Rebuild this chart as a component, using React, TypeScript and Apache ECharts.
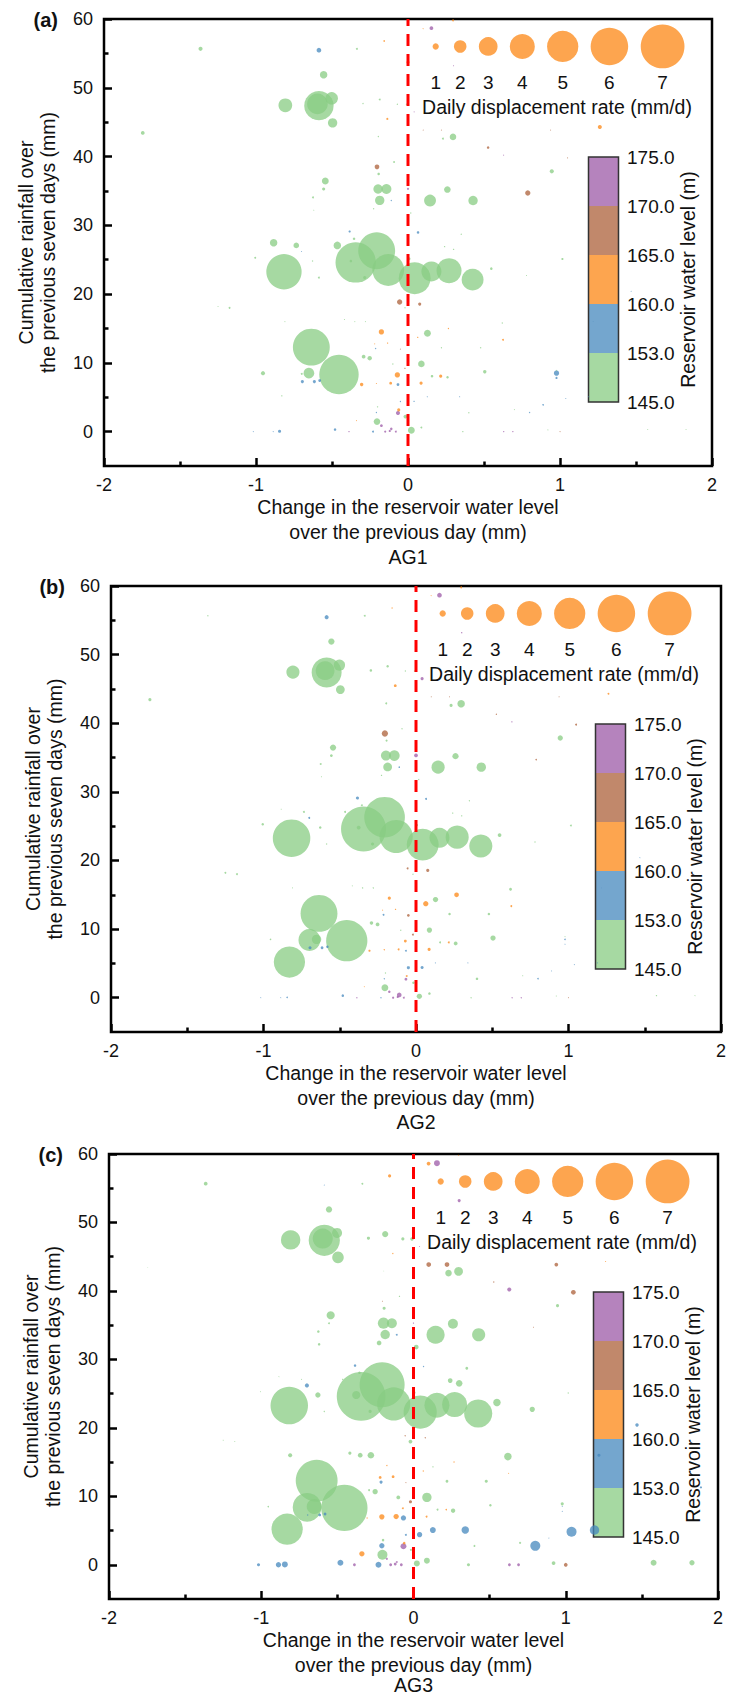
import { useEffect, useRef } from 'react';
import * as echarts from 'echarts';

const FONT = '"Liberation Sans", Arial, Helvetica, sans-serif';

// ---------- data ----------
const panelLabels = ['(a)', '(b)', '(c)'];
const panelNames = ['AG1', 'AG2', 'AG3'];
const yMajorTicks = [0, 10, 20, 30, 40, 50, 60];
const yMinorTicks = [5, 15, 25, 35, 45, 55];
const legendRates = [1, 2, 3, 4, 5, 6, 7];
const levelBreaks = [145, 153, 160, 165, 170, 175];
const zeroLine = [[0, -5], [0, 60]];

// [change in water level (m), 7-day rainfall (mm), reservoir water level (m)]
const points: number[][] = [
  [-1.365, 55.66, 149], [-0.586, 55.46, 156], [-0.336, 55.66, 149], [-0.555, 51.9, 149], [-0.586, 47.4, 149],
  [-0.596, 47.65, 149], [-0.807, 47.45, 149], [-0.502, 48.47, 149], [-0.496, 44.9, 149], [-1.745, 43.43, 149],
  [-0.186, 48.3, 149], [-0.296, 47.7, 149], [-0.136, 45.47, 162], [-0.195, 42.9, 149], [-0.204, 38.5, 167],
  [-0.193, 37.47, 149], [-0.092, 39.2, 149], [-0.544, 36.45, 149], [-0.555, 35.28, 149], [-0.625, 34.06, 149],
  [-0.62, 32.2, 149], [-0.197, 35.28, 149], [-0.142, 35.28, 149], [-0.186, 33.63, 149], [-0.11, 33.6, 156],
  [-0.226, 32.4, 149], [-0.384, 29.1, 156], [-0.355, 28.05, 149], [-0.465, 27.08, 149], [-0.884, 27.47, 149],
  [-0.735, 27.08, 149], [-0.7, 26.2, 156], [-1.005, 25.28, 149], [-0.628, 24.8, 149], [-0.816, 23.25, 149],
  [-0.344, 24.6, 149], [-0.206, 26.3, 149], [-0.13, 23.5, 149], [0.044, 22.3, 149], [0.154, 23.3, 149],
  [0.27, 23.4, 149], [0.425, 22.1, 149], [-0.376, 24.8, 149], [0.548, 23.7, 149], [0.78, 22.7, 149],
  [1.016, 25.1, 149], [-0.285, 22.4, 149], [-0.586, 22.4, 149], [-0.055, 18.84, 167], [0.077, 18.55, 167],
  [-0.05, 12.0, 167], [-0.175, 14.5, 162], [0.128, 14.3, 149], [0.064, 13.7, 162], [0.266, 15.0, 162],
  [0.625, 13.35, 162], [0.62, 15.8, 149], [-0.213, 12.08, 156], [-0.134, 12.87, 162], [-0.219, 12.76, 162],
  [-0.636, 12.28, 149], [-0.454, 8.3, 149], [-0.652, 8.5, 149], [-0.699, 8.4, 149], [-0.83, 5.2, 149],
  [-0.954, 8.5, 149], [-0.695, 7.28, 156], [-0.616, 7.28, 156], [-0.581, 7.42, 156], [-0.292, 10.9, 149],
  [-0.252, 10.68, 149], [-0.114, 7.04, 162], [-0.305, 6.84, 162], [-0.208, 7.0, 162], [-0.07, 8.25, 162],
  [-0.066, 6.84, 156], [0.086, 7.04, 162], [0.158, 8.06, 149], [0.215, 8.06, 162], [0.26, 7.9, 149],
  [0.088, 9.85, 149], [-0.1, 9.84, 149], [-0.02, 9.2, 167], [0.505, 8.69, 149], [0.977, 8.5, 156],
  [0.977, 8.9, 149], [0.977, 7.8, 156], [0.889, 3.9, 156], [-0.204, 1.46, 149], [-0.175, 0.87, 172],
  [-0.11, 0.4, 172], [-0.066, 2.7, 172], [-0.017, 2.18, 149], [0.022, 0.2, 149], [0.088, 0.6, 149],
  [-0.061, 3.16, 162], [-0.48, 0.3, 156], [-0.845, 0.05, 156], [-0.887, 0, 156], [-1.018, 0, 156],
  [-0.23, 0, 156], [-0.388, 0, 172], [-0.15, 0, 172], [-0.12, 0.1, 172], [-0.08, 0, 172],
  [-0.339, 1.6, 162], [-0.208, 2.77, 156], [-0.2, 3.6, 149], [0.04, 4.4, 156], [-0.05, 4.37, 156],
  [0.127, 5.07, 156], [0.34, 5.07, 156], [1.038, 4.82, 156], [1.189, 5.07, 156], [0.8, 2.77, 156],
  [0.361, 0, 149], [0.63, 0, 172], [0.69, 0, 172], [0.92, 0.25, 149], [1.0, 0, 167],
  [1.577, 0.3, 149], [1.829, 0.3, 149], [0.4, 2.75, 149], [1.468, 20.4, 156], [-0.02, 18.0, 149],
  [1.888, 11.3, 156], [1.457, 10.4, 156], [1.218, 16.0, 156], [0.22, 12.2, 149], [0.478, 12.2, 149],
  [-0.81, 16.0, 149], [-0.418, 16.3, 149], [-0.35, 16.0, 149], [-0.28, 16.0, 149], [-1.174, 18.0, 149],
  [-1.25, 18.2, 149], [0.35, 28.7, 149], [0.241, 26.9, 149], [0.3, 26.5, 149], [0.018, 31.8, 149],
  [0.259, 35.2, 149], [0.145, 33.6, 149], [0.428, 33.6, 149], [0, 35.3, 172], [0.066, 28.97, 156],
  [0.296, 42.85, 149], [0.23, 42.6, 149], [0.527, 41.3, 167], [0.946, 37.85, 149], [0.788, 34.7, 167],
  [1.262, 44.3, 162], [1.05, 39.8, 167], [0.629, 40.2, 172], [0.938, 43.85, 167], [0.1, 43.85, 167],
  [0.22, 43.85, 167], [0.04, 46.5, 172], [0.154, 58.66, 172], [0.099, 58.6, 162], [0.296, 59.8, 162],
  [-0.157, 56.8, 162], [0, 53.7, 162], [0.3, 53.2, 172], [-0.07, 47.6, 149], [-0.01, 47.6, 149],
  [0.007, 25.14, 149], [0.7, 3.2, 149],
];

// daily displacement rate (mm/d), one value per point
const rateAG1 = [
  0.65, 0.75, 0.3, 1.2, 4.7, 3.3, 2.2, 2.0, 1.5, 0.6,
  0.3, 0.2, 0.35, 0.2, 0.75, 0.4, 0.3, 1.1, 0.5, 0.3,
  0.15, 1.5, 1.6, 1.5, 0.2, 0.2, 0.35, 0.4, 1.2, 1.2,
  0.9, 0.15, 0.3, 0.2, 5.65, 6.45, 5.9, 5.1, 5.1, 3.2,
  4.0, 3.5, 0.4, 0.4, 0.15, 0.35, 0.5, 0.3, 0.85, 0.5,
  0.15, 0.85, 1.1, 0.2, 0.2, 0.3, 0.2, 0.2, 0.2, 0.15,
  5.9, 6.3, 1.7, 0.3, 0.2, 0.65, 0.5, 0.5, 0.45, 0.6,
  0.7, 0.45, 0.55, 0.15, 0.85, 0.45, 0.5, 0.4, 0.5, 0.4,
  1.05, 0.2, 0.2, 0.55, 0.85, 0.15, 0.35, 0.25, 1.05, 0.45,
  0.4, 0.65, 0.6, 1.1, 0.3, 0.5, 0.4, 0.5, 0.15, 0.15,
  0.3, 0.2, 0.35, 0.35, 0.3, 0.15, 0.2, 0.2, 0.2, 0.2,
  0.15, 0.15, 0.15, 0.15, 0.2, 0.2, 0.2, 0.2, 0.15, 0.15,
  0.15, 0.15, 0.2, 0.15, 0.2, 0.1, 0.1, 0.1, 0.2, 0.2,
  0.15, 0.15, 0.15, 0.15, 0.3, 0.15, 0.2, 0.2, 0.2, 0.2,
  1.05, 1.9, 1.5, 0.35, 0.4, 1.05, 0.3, 0.4, 0.65, 0.85,
  0.65, 0.15, 0.15, 0.15, 0.15, 0.15, 0.15, 0.6, 0.15, 0.3,
  0.25, 0.5, 0.15, 0.2, 0.2, 0.45, 0.15,
];
const rateAG2 = [
  0.2, 0.65, 0.3, 1.0, 4.8, 3.0, 2.1, 1.8, 1.4, 0.5,
  0.4, 0.4, 0.45, 0.3, 1.0, 0.35, 0.2, 1.0, 0.45, 0.3,
  0.15, 1.6, 1.7, 1.4, 0.25, 0.2, 0.5, 0.3, 0.3, 0.15,
  0.3, 0.3, 0.4, 0.4, 6.0, 7.2, 6.5, 5.3, 5.1, 3.2,
  3.7, 3.7, 0.6, 0.6, 0.2, 0.3, 0.5, 0.2, 0.3, 0.5,
  0.45, 0.5, 0.85, 0.85, 0.75, 0.3, 0.45, 0.3, 0.2, 0.15,
  5.9, 6.6, 1.5, 3.5, 5.0, 0.25, 0.5, 0.45, 0.4, 0.55,
  0.6, 0.3, 0.35, 0.2, 0.45, 0.3, 0.5, 0.3, 0.3, 0.6,
  0.85, 0.2, 0.3, 0.85, 0.25, 0.15, 0.15, 0.15, 1.1, 0.4,
  0.75, 0.45, 0.4, 0.85, 0.4, 0.3, 0.4, 0.25, 0.15, 0.15,
  0.2, 0.2, 0.35, 0.35, 0.3, 0.15, 0.2, 0.2, 0.5, 0.5,
  0.15, 0.15, 0.15, 0.15, 0.25, 0.2, 0.2, 0.2, 0.15, 0.15,
  0.2, 0.15, 0.4, 0.15, 0.2, 0.1, 0.1, 0.1, 0.4, 0.4,
  0.15, 0.15, 0.2, 0.2, 0.3, 0.3, 0.2, 0.2, 0.2, 0.2,
  1.0, 2.1, 1.5, 0.6, 0.3, 1.2, 0.5, 0.2, 0.85, 0.25,
  0.3, 0.3, 0.2, 0.15, 0.15, 0.15, 0.5, 0.75, 0.15, 0.3,
  0.2, 0.2, 0.2, 0.2, 0.2, 0.3, 0.15,
];
const rateAG3 = [
  0.6, 0.15, 0.3, 1.0, 5.0, 3.2, 3.1, 1.6, 1.85, 0.1,
  1.0, 0.5, 0.2, 0.1, 0.15, 0.5, 0.2, 1.3, 0.3, 0.4,
  0.4, 1.8, 1.6, 1.5, 0.3, 0.75, 0.4, 0.4, 0.2, 0.15,
  0.15, 0.65, 0.15, 0.85, 6.0, 7.8, 7.2, 5.3, 5.3, 4.0,
  4.0, 4.5, 1.3, 1.2, 0.85, 0.2, 0.5, 0.2, 0.2, 0.2,
  0.15, 0.2, 0.2, 0.2, 0.2, 0.15, 1.2, 0.5, 0.45, 0.45,
  6.7, 7.4, 2.4, 4.6, 5.0, 0.25, 0.2, 0.45, 0.45, 0.3,
  0.85, 0.85, 0.2, 0.85, 0.3, 0.85, 0.3, 0.3, 0.25, 0.7,
  1.5, 0.6, 0.5, 0.4, 0.15, 0.5, 0.15, 0.15, 1.6, 0.3,
  0.3, 0.95, 0.3, 0.95, 0.95, 0.4, 0.95, 0.95, 0.85, 0.5,
  0.95, 0.45, 0.45, 0.45, 0.45, 0.85, 0.85, 0.4, 0.85, 0.3,
  0.95, 1.2, 1.6, 1.5, 1.6, 0.5, 0.45, 0.45, 0.6, 0.6,
  0.95, 0.85, 0.3, 0.55, 0.6, 0.35, 0.45, 0.5, 0.45, 0.5,
  0.65, 0.5, 0.75, 1.05, 0.15, 0.15, 0.45, 0.75, 1.05, 0.75,
  1.6, 2.9, 2.1, 0.2, 0.2, 1.4, 1.05, 0.2, 0.5, 0.15,
  0.15, 0.75, 0.65, 0.6, 0.75, 0.75, 0.15, 0.95, 0.6, 0.15,
  0.5, 0.2, 0.5, 0.5, 0.55, 0.3, 0.35,
];
const panelRates = [rateAG1, rateAG2, rateAG3];

// ---------- layout & style ----------
const grids = [
  { left: 104, top: 19, width: 608, height: 447 },
  { left: 111, top: 586, width: 610, height: 446 },
  { left: 109, top: 1154, width: 609, height: 445 },
];
const nameOffsets = [91, 90, 86];
const PX_PER_RATE = 6.25;
const POINT_OPACITY = 0.75;
const levelSwatch = ['#a6d9a2', '#74a6ce', '#fda54f', '#c1886b', '#b583bd'];
const levelPointColor = ['#88cc83', '#4688be', '#fc8714', '#ac603a', '#9c5aa7'];
const legendOffsetX = [331.7, 356.2, 384.2, 418.3, 458.7, 505.4, 558.6];
const TXT = '#111';

function text(t: string, x: number, y: number, extra: any = {}, rotation = 0) {
  return {
    type: 'text',
    x,
    y,
    rotation,
    z: 20,
    silent: true,
    style: {
      text: t,
      fontSize: 19.5,
      fontFamily: FONT,
      fill: TXT,
      align: 'center',
      verticalAlign: 'middle',
      textAlign: 'center',
      textVerticalAlign: 'middle',
      ...extra,
    },
  };
}

function buildOption() {
  const axisLineStyle = { color: '#000', width: 2.5 };
  const xAxis = grids.map((g, i) => ({
    gridIndex: i,
    type: 'value',
    position: 'bottom',
    min: -2,
    max: 2,
    interval: 1,
    axisLine: { show: false, onZero: false },
    axisTick: { show: true, inside: true, length: 8, lineStyle: axisLineStyle },
    minorTick: { show: true, splitNumber: 2, length: 4.5, lineStyle: axisLineStyle },
    axisLabel: { fontSize: 18, color: TXT, fontFamily: FONT, margin: 10, showMinLabel: true, showMaxLabel: true },
    splitLine: { show: false },
    minorSplitLine: { show: false },
  }));
  const yAxis: any[] = [];
  grids.forEach((g, i) => {
    yAxis.push({
      gridIndex: i,
      type: 'value',
      position: 'left',
      min: -5,
      max: 60,
      axisLine: { show: false, onZero: false },
      axisTick: { show: true, inside: true, length: 8, customValues: yMajorTicks, lineStyle: axisLineStyle },
      axisLabel: { customValues: yMajorTicks, fontSize: 18, color: TXT, fontFamily: FONT, margin: 11 },
      splitLine: { show: false },
    });
    yAxis.push({
      gridIndex: i,
      type: 'value',
      position: 'right',
      offset: -g.width,
      min: -5,
      max: 60,
      axisLine: { show: false, onZero: false },
      axisTick: { show: true, inside: false, length: 4.5, customValues: yMinorTicks, lineStyle: axisLineStyle },
      axisLabel: { show: false },
      splitLine: { show: false },
    });
  });

  const scatterSeries = grids.map((g, i) => ({
    type: 'scatter',
    xAxisIndex: i,
    yAxisIndex: 2 * i,
    silent: true,
    z: 2,
    symbolSize: (v: number[]) => v[3] * PX_PER_RATE,
    itemStyle: { opacity: POINT_OPACITY },
    data: points
      .map((p, j) => [p[0], p[1], p[2], panelRates[i][j]])
      .sort((a, b) => b[3] - a[3]),
  }));
  const lineSeries = grids.map((g, i) => ({
    type: 'line',
    xAxisIndex: i,
    yAxisIndex: 2 * i,
    silent: true,
    z: 5,
    symbol: 'none',
    lineStyle: { color: '#ff0000', width: 3, type: [12, 8] },
    data: zeroLine,
  }));

  const graphic: any[] = [];
  grids.forEach((g, i) => {
    const cx = g.left + g.width / 2;
    const cy = g.top + g.height / 2;
    const bottom = g.top + g.height;
    graphic.push(text(panelLabels[i], g.left - 46, g.top + 1, { fontWeight: 'bold', fontSize: 20, align: 'right', textAlign: 'right' }));
    graphic.push(text('Cumulative rainfall over', g.left - 78, cy, {}, Math.PI / 2));
    graphic.push(text('the previous seven days (mm)', g.left - 56, cy, {}, Math.PI / 2));
    graphic.push(text('Change in the reservoir water level', cx, bottom + 41));
    graphic.push(text('over the previous day (mm)', cx, bottom + 66));
    graphic.push(text(panelNames[i], cx, bottom + nameOffsets[i]));
    // size legend
    legendRates.forEach((r, k) => {
      graphic.push({
        type: 'circle',
        z: 3,
        silent: true,
        shape: { cx: g.left + legendOffsetX[k], cy: g.top + 27.5, r: (r * PX_PER_RATE) / 2 },
        style: { fill: levelPointColor[2], opacity: POINT_OPACITY },
      });
      graphic.push(text(String(r), g.left + legendOffsetX[k], g.top + 63, { fontSize: 19 }));
    });
    graphic.push(text('Daily displacement rate (mm/d)', g.left + 453, g.top + 88));
    // colour bar
    const barX = g.left + 484.5;
    const barTop = g.top + 138;
    const seg = 49;
    const nSeg = levelSwatch.length;
    levelSwatch.forEach((c, k) => {
      graphic.push({
        type: 'rect',
        z: 1,
        silent: true,
        shape: { x: barX, y: barTop + (nSeg - 1 - k) * seg, width: 30, height: seg },
        style: { fill: c },
      });
    });
    graphic.push({
      type: 'rect',
      z: 1,
      silent: true,
      shape: { x: barX, y: barTop, width: 30, height: seg * nSeg },
      style: { fill: 'none', stroke: '#333', lineWidth: 1.5 },
    });
    levelBreaks.forEach((b, k) => {
      graphic.push(text(b.toFixed(1), g.left + 523, barTop + (nSeg - k) * seg, { fontSize: 19, align: 'left', textAlign: 'left' }));
    });
    graphic.push(text('Reservoir water level (m)', g.left + 584, barTop + (seg * nSeg) / 2, {}, Math.PI / 2));
  });

  return {
    animation: false,
    backgroundColor: '#ffffff',
    textStyle: { fontFamily: FONT },
    grid: grids.map((g) => ({
      ...g,
      show: true,
      borderColor: '#000',
      borderWidth: 2.5,
      backgroundColor: 'transparent',
      containLabel: false,
      outerBoundsMode: 'none',
    })),
    xAxis,
    yAxis,
    visualMap: {
      type: 'piecewise',
      show: false,
      dimension: 2,
      seriesIndex: [0, 1, 2],
      pieces: levelPointColor.map((c, k) => ({ gte: levelBreaks[k], lt: levelBreaks[k + 1] + (k === levelPointColor.length - 1 ? 0.001 : 0), color: c })),
    },
    series: [...scatterSeries, ...lineSeries],
    graphic,
  };
}

export default function App() {
  const ref = useRef<HTMLDivElement>(null);
  useEffect(() => {
    if (!ref.current) return;
    const chart = echarts.init(ref.current, undefined, { renderer: 'svg' });
    chart.setOption(buildOption() as any);
    return () => chart.dispose();
  }, []);
  return (
    <div
      ref={ref}
      style={{ position: 'absolute', left: 0, top: 0, width: 736, height: 1698, background: '#fff' }}
    />
  );
}
